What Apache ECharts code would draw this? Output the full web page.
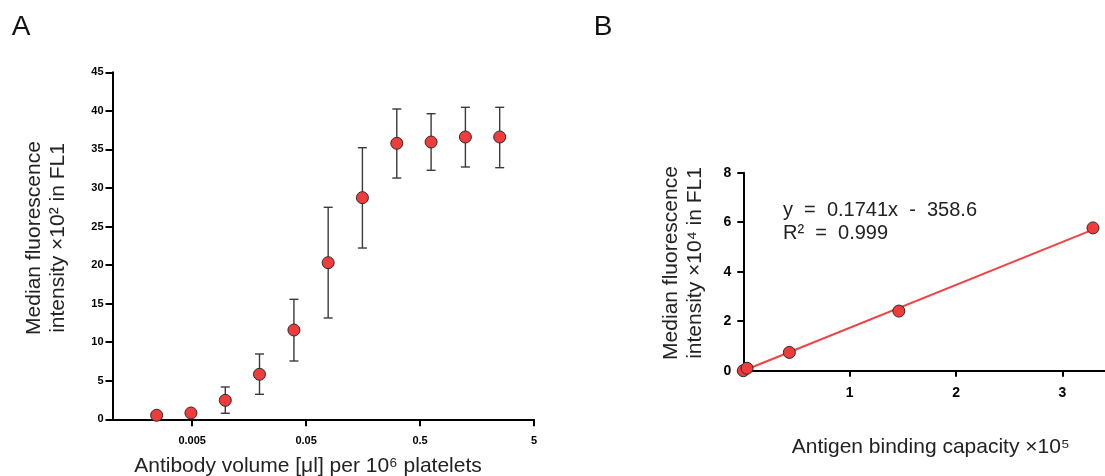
<!DOCTYPE html>
<html>
<head>
<meta charset="utf-8">
<script src="https://cdn.jsdelivr.net/npm/echarts@6/dist/echarts.min.js"></script>
<style>
html,body{margin:0;padding:0;background:#fff;}
#chart{width:1105px;height:476px;}
</style>
</head>
<body>
<div id="chart"></div>
<script>
// Panel A: antibody titration (two-fold dilution series)
const volumes = [0.00244, 0.00488, 0.00977, 0.0195, 0.0391, 0.0781, 0.156, 0.3125, 0.625, 1.25, 2.5];
const mfiMean = [0.52, 0.82, 2.46, 5.84, 11.58, 20.31, 28.74, 35.79, 35.96, 36.61, 36.61];
const mfiLow  = [null, null, 0.78, 3.24, 7.56, 13.14, 22.21, 31.29, 32.29, 32.72, 32.63];
const mfiHigh = [null, null, 4.19, 8.47, 15.56, 27.49, 35.22, 40.24, 39.63, 40.46, 40.46];
const xTicksA = [0.005, 0.05, 0.5, 5];
const xTickLabelsA = ['0.005', '0.05', '0.5', '5'];

// Panel B: calibration
const abc = [0, 0.035, 0.433, 1.462, 3.287];
const mfiB = [0, 0.10, 0.74, 2.41, 5.77];
const fitX = [0, 3.287];
const fitY = [0, 5.70];
const xTicksB = [1, 2, 3];

const RED = '#f23b3b';
const EDGE = '#2b2b2b';
const TXT = '#222';
const FONT = '"Liberation Sans", Arial, sans-serif';

const chart = echarts.init(document.getElementById('chart'), null, {renderer: 'canvas'});

const tickStyle = {color: '#000', width: 2};

const option = {
  animation: false,
  backgroundColor: '#fff',
  textStyle: {fontFamily: FONT},
  grid: [
    {left: 112.5, top: 72.3, width: 421.5, height: 347},
    {left: 743.3, top: 172.7, width: 361.7, height: 198}
  ],
  xAxis: [
    {
      gridIndex: 0, type: 'value',
      min: Math.log10(0.001), max: Math.log10(5),
      axisLine: {onZero: false, lineStyle: {color: '#000', width: 2}},
      axisTick: {customValues: xTicksA.map(v => Math.log10(v)), length: 7, lineStyle: tickStyle},
      axisLabel: {
        customValues: xTicksA.map(v => Math.log10(v)),
        margin: 16, fontSize: 11, fontWeight: 'bold', color: '#000', fontFamily: FONT,
        formatter: v => {
          const i = xTicksA.findIndex(t => Math.abs(Math.log10(t) - v) < 1e-6);
          return i >= 0 ? xTickLabelsA[i] : '';
        }
      },
      splitLine: {show: false}
    },
    {
      gridIndex: 1, type: 'value', min: 0, max: 3.4,
      axisLine: {onZero: false, lineStyle: {color: '#000', width: 2}},
      axisTick: {customValues: xTicksB, length: 6, lineStyle: tickStyle},
      axisLabel: {customValues: xTicksB, margin: 15, fontSize: 14, fontWeight: 'bold', color: '#000', fontFamily: FONT},
      splitLine: {show: false}
    }
  ],
  yAxis: [
    {
      gridIndex: 0, type: 'value', min: 0, max: 45, interval: 5,
      axisLine: {show: true, onZero: false, lineStyle: {color: '#000', width: 2}},
      axisTick: {show: true, length: 7, lineStyle: tickStyle},
      axisLabel: {margin: 9, fontSize: 11, fontWeight: 'bold', color: '#000', fontFamily: FONT},
      splitLine: {show: false}
    },
    {
      gridIndex: 1, type: 'value', min: 0, max: 8, interval: 2,
      axisLine: {show: true, onZero: false, lineStyle: {color: '#000', width: 2}},
      axisTick: {show: true, length: 6, lineStyle: tickStyle},
      axisLabel: {margin: 12, fontSize: 14, fontWeight: 'bold', color: '#000', fontFamily: FONT},
      splitLine: {show: false}
    }
  ],
  series: [
    {
      type: 'custom', xAxisIndex: 0, yAxisIndex: 0, z: 2,
      data: volumes.map((v, i) => [Math.log10(v), mfiLow[i], mfiHigh[i]]).filter(d => d[1] != null),
      renderItem: (params, api) => {
        const x = api.value(0);
        const lo = api.coord([x, api.value(1)]);
        const hi = api.coord([x, api.value(2)]);
        const hw = 4.5;
        const st = {stroke: '#3a3a3a', lineWidth: 1.4};
        return {
          type: 'group',
          children: [
            {type: 'line', shape: {x1: lo[0], y1: lo[1], x2: hi[0], y2: hi[1]}, style: st},
            {type: 'line', shape: {x1: lo[0] - hw, y1: lo[1], x2: lo[0] + hw, y2: lo[1]}, style: st},
            {type: 'line', shape: {x1: hi[0] - hw, y1: hi[1], x2: hi[0] + hw, y2: hi[1]}, style: st}
          ]
        };
      }
    },
    {
      type: 'scatter', xAxisIndex: 0, yAxisIndex: 0, z: 3,
      symbolSize: 12,
      itemStyle: {color: RED, borderColor: EDGE, borderWidth: 1, opacity: 1},
      data: volumes.map((v, i) => [Math.log10(v), mfiMean[i]])
    },
    {
      type: 'line', xAxisIndex: 1, yAxisIndex: 1, z: 2,
      showSymbol: false, symbol: 'none', clip: false,
      lineStyle: {color: '#f04343', width: 2},
      data: fitX.map((x, i) => [x, fitY[i]])
    },
    {
      type: 'scatter', xAxisIndex: 1, yAxisIndex: 1, z: 3, clip: false,
      symbolSize: 12,
      itemStyle: {color: RED, borderColor: EDGE, borderWidth: 1, opacity: 1},
      data: abc.map((x, i) => [x, mfiB[i]])
    }
  ],
  graphic: [
    {type: 'text', x: 21, y: 27, style: {text: 'A', font: '28px ' + FONT, fill: '#111', align: 'center', verticalAlign: 'middle'}},
    {type: 'text', x: 603, y: 27, style: {text: 'B', font: '28px ' + FONT, fill: '#111', align: 'center', verticalAlign: 'middle'}},
    {type: 'text', x: 46.5, y: 238, rotation: Math.PI / 2,
      style: {text: 'Median fluorescence\nintensity ×10² in FL1', font: '21px ' + FONT, lineHeight: 24, fill: TXT, align: 'center', verticalAlign: 'middle'}},
    {type: 'text', x: 683.5, y: 263, rotation: Math.PI / 2,
      style: {text: 'Median fluorescence\nintensity ×10⁴ in FL1', font: '21px ' + FONT, lineHeight: 24, fill: TXT, align: 'center', verticalAlign: 'middle'}},
    {type: 'text', x: 308, y: 466.5,
      style: {text: 'Antibody volume [μl] per 10⁶ platelets', font: '21px ' + FONT, fill: TXT, align: 'center', verticalAlign: 'middle'}},
    {type: 'text', x: 930.7, y: 447.7,
      style: {text: 'Antigen binding capacity ×10⁵', font: '21px ' + FONT, fill: TXT, align: 'center', verticalAlign: 'middle'}},
    {type: 'text', x: 783, y: 198.5,
      style: {text: 'y  =  0.1741x  -  358.6\nR²  =  0.999', font: '20px ' + FONT, lineHeight: 23, fill: TXT, align: 'left', verticalAlign: 'top'}}
  ]
};
chart.setOption(option);
</script>
</body>
</html>
